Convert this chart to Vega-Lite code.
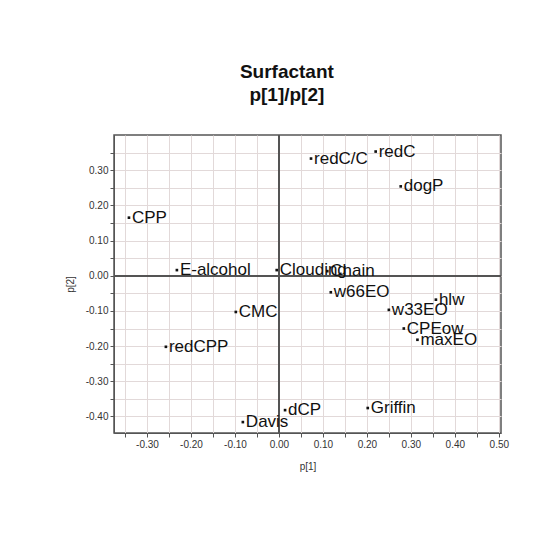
{
  "$schema": "https://vega.github.io/schema/vega-lite/v6.json",
  "width": 387,
  "height": 298,
  "padding": {"left": 65, "top": 63, "right": 5, "bottom": 5},
  "background": "white",
  "title": {
    "text": "Surfactant",
    "subtitle": "p[1]/p[2]",
    "anchor": "middle",
    "frame": "bounds",
    "font": "Liberation Sans",
    "fontSize": 19,
    "fontWeight": 600,
    "color": "#111",
    "subtitleFont": "Liberation Sans",
    "subtitleFontSize": 19,
    "subtitleFontWeight": 600,
    "subtitleColor": "#111",
    "subtitlePadding": 4,
    "offset": 29
  },
  "config": {
    "view": {"stroke": "#555", "strokeWidth": 1.5},
    "axis": {
      "labelFont": "Liberation Sans",
      "labelFontSize": 10,
      "labelColor": "#333",
      "titleFont": "Liberation Sans",
      "titleFontSize": 10,
      "titleFontWeight": "normal",
      "titleColor": "#333",
      "gridColor": "#e2d9d9",
      "gridOpacity": 1,
      "domainColor": "#555",
      "tickColor": "#555",
      "tickSize": 4
    }
  },
  "data": {
    "values": [
      {"name": "CPP", "p1": -0.341, "p2": 0.165},
      {"name": "E-alcohol", "p1": -0.232, "p2": 0.016},
      {"name": "Clouding", "p1": -0.005, "p2": 0.016},
      {"name": "Chain", "p1": 0.11, "p2": 0.013},
      {"name": "redC/C", "p1": 0.073, "p2": 0.333},
      {"name": "redC", "p1": 0.22, "p2": 0.353},
      {"name": "dogP", "p1": 0.277, "p2": 0.254},
      {"name": "w66EO", "p1": 0.118, "p2": -0.047},
      {"name": "w33EO", "p1": 0.25, "p2": -0.097},
      {"name": "hlw", "p1": 0.357, "p2": -0.068},
      {"name": "CPEow", "p1": 0.284, "p2": -0.15},
      {"name": "maxEO", "p1": 0.315, "p2": -0.182},
      {"name": "CMC", "p1": -0.098, "p2": -0.103},
      {"name": "redCPP", "p1": -0.257, "p2": -0.202},
      {"name": "Davis", "p1": -0.082, "p2": -0.416},
      {"name": "dCP", "p1": 0.014, "p2": -0.382},
      {"name": "Griffin", "p1": 0.202, "p2": -0.376}
    ]
  },
  "encoding": {
    "x": {
      "field": "p1",
      "type": "quantitative",
      "title": "p[1]",
      "scale": {"domain": [-0.375, 0.505], "nice": false, "zero": false},
      "axis": {
        "values": [-0.35, -0.3, -0.25, -0.2, -0.15, -0.1, -0.05, 0, 0.05, 0.1, 0.15, 0.2, 0.25, 0.3, 0.35, 0.4, 0.45, 0.5],
        "labelExpr": "abs(round(datum.value*100)) % 10 == 0 ? replace(format(datum.value, '.2f'), '\u2212', '-') : ''",
        "titlePadding": 12
      }
    },
    "y": {
      "field": "p2",
      "type": "quantitative",
      "title": "p[2]",
      "scale": {"domain": [-0.447, 0.4], "nice": false, "zero": false},
      "axis": {
        "values": [-0.4, -0.35, -0.3, -0.25, -0.2, -0.15, -0.1, -0.05, 0, 0.05, 0.1, 0.15, 0.2, 0.25, 0.3, 0.35],
        "labelExpr": "abs(round(datum.value*100)) % 10 == 0 ? replace(format(datum.value, '.2f'), '\u2212', '-') : ''",
        "titlePadding": 10
      }
    }
  },
  "layer": [
    {
      "mark": {"type": "rule", "color": "#555", "strokeWidth": 1.2},
      "encoding": {"x": {"datum": 0}, "y": null}
    },
    {
      "mark": {"type": "rule", "color": "#555", "strokeWidth": 1.2},
      "encoding": {"y": {"datum": 0}, "x": null}
    },
    {
      "mark": {"type": "point", "shape": "square", "filled": true, "color": "#111", "size": 7, "opacity": 1}
    },
    {
      "mark": {"type": "text", "align": "left", "baseline": "middle", "dx": 3, "font": "Liberation Sans", "fontSize": 17, "color": "#111"},
      "encoding": {"text": {"field": "name"}}
    }
  ]
}
